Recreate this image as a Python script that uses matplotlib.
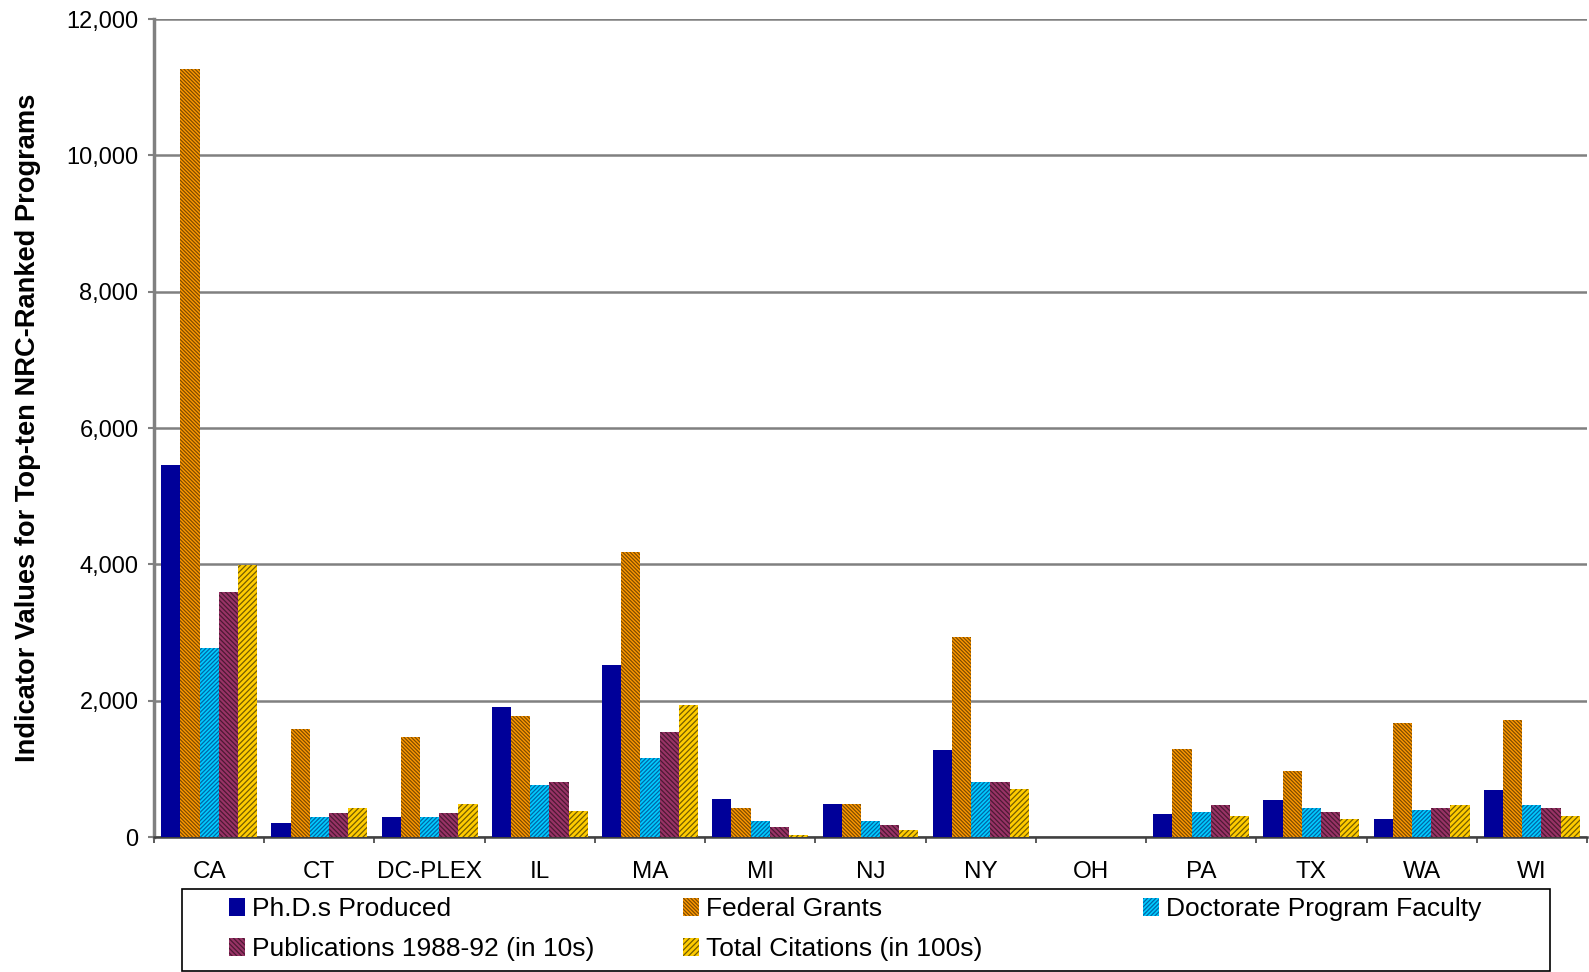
import matplotlib

matplotlib.use("Agg")
import matplotlib.pyplot as plt
import numpy as np
from matplotlib.patches import Rectangle
from matplotlib.ticker import FuncFormatter

plt.rcParams["font.family"] = ["Liberation Sans", "DejaVu Sans"]
plt.rcParams["hatch.linewidth"] = 0.9

W, H = 1589, 972

# Data
states = ["CA", "CT", "DC-PLEX", "IL", "MA", "MI", "NJ", "NY", "OH", "PA", "TX", "WA", "WI"]
phds = [5460, 210, 300, 1900, 2530, 560, 490, 1270, 0, 340, 550, 270, 690]
grants = [11270, 1590, 1470, 1780, 4180, 420, 490, 2930, 0, 1290, 970, 1670, 1720]
faculty = [2770, 300, 300, 770, 1160, 230, 230, 810, 0, 360, 430, 390, 470]
pubs = [3600, 350, 350, 810, 1540, 140, 180, 810, 0, 470, 360, 430, 430]
citations = [3990, 420, 490, 380, 1940, 30, 110, 700, 0, 310, 270, 470, 310]

series = [
    ("Ph.D.s Produced", phds, "#000099", None, None),
    ("Federal Grants", grants, "#FF9900", "\\" * 9, (0, 0, 0, 0.5)),
    ("Doctorate Program Faculty", faculty, "#00CCFF", "/" * 8, (0, 0, 0.3, 0.5)),
    ("Publications 1988-92 (in 10s)", pubs, "#993366", "\\" * 7, (0, 0, 0, 0.5)),
    ("Total Citations (in 100s)", citations, "#FFCC00", "/" * 6, (0, 0, 0, 0.55)),
]

fig = plt.figure(figsize=(W / 100, H / 100), dpi=100)
ax = fig.add_axes([154 / W, 1 - 837 / H, 1433 / W, 818 / H])

x = np.arange(len(states))
width = 0.174
bars = []
for i, (name, vals, color, hatch, hcol) in enumerate(series):
    b = ax.bar(
        x + (i - 2) * width,
        vals,
        width,
        color=color,
        hatch=hatch,
        edgecolor=hcol if hatch else color,
        linewidth=0,
        label=name,
        zorder=3,
    )
    bars.append(b)

ax.set_xlim(-0.5, len(states) - 0.5)
ax.set_ylim(0, 12000)
ax.set_yticks(range(0, 12001, 2000))
ax.yaxis.set_major_formatter(FuncFormatter(lambda v, p: f"{int(v):,}"))
ax.yaxis.grid(True, color="#808080", linewidth=1.8, zorder=0)

ax.set_xticks(x)
ax.set_xticklabels(states)
ax.set_xticks(np.arange(-0.5, len(states)), minor=True)
ax.tick_params(axis="x", which="major", length=0, labelsize=17.5, pad=17)
ax.tick_params(axis="x", which="minor", length=4.5, width=1.2, color="#404040")
ax.tick_params(axis="y", length=4.2, width=1.5, color="#808080", labelsize=17, pad=7)

for side in ["top", "right"]:
    ax.spines[side].set_visible(False)
ax.spines["left"].set_color("#808080")
ax.spines["left"].set_linewidth(2.5)
ax.spines["bottom"].set_color("#404040")
ax.spines["bottom"].set_linewidth(1.8)

ax.set_ylabel(
    "Indicator Values for Top-ten NRC-Ranked Programs",
    fontsize=19.6,
    fontweight="bold",
)
ax.yaxis.set_label_coords(-113 / 1433, 0.5)

# legend: three columns placed like the original, one frame around them
cols = [[0, 3], [1, 4], [2]]
col_x = [229, 683, 1143]
for idx, cx in zip(cols, col_x):
    fig.legend(
        [bars[i] for i in idx],
        [series[i][0] for i in idx],
        loc="upper left",
        bbox_to_anchor=(cx / W, 1 - 897 / H),
        fontsize=19,
        frameon=False,
        handlelength=0.6,
        handleheight=0.68,
        handletextpad=0.27,
        borderaxespad=0,
        borderpad=0,
        labelspacing=0.6,
    )
fig.patches.append(
    Rectangle(
        (182 / W, 1 - 971 / H),
        1368 / W,
        82 / H,
        transform=fig.transFigure,
        fill=False,
        edgecolor="black",
        linewidth=1.2,
    )
)

fig.savefig("out.png", dpi=100)
